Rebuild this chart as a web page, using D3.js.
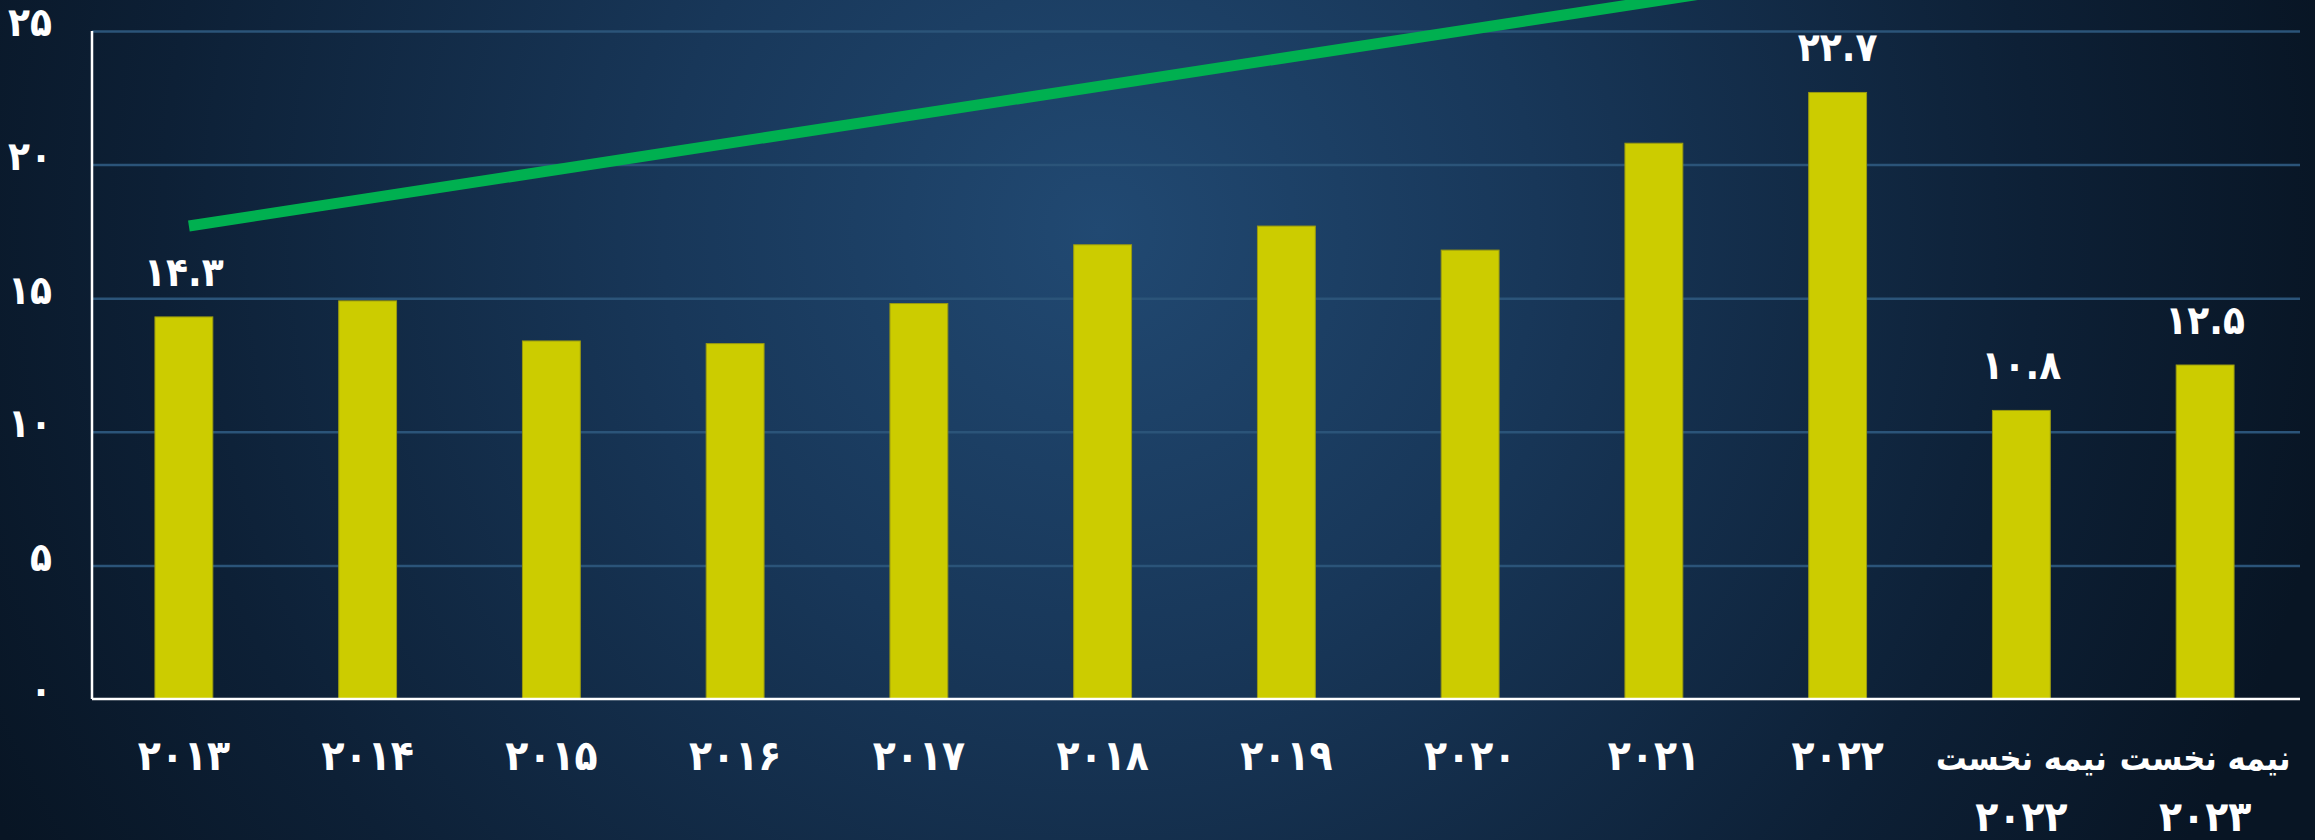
<!DOCTYPE html>
<html>
<head>
<meta charset="utf-8">
<script src="https://cdn.jsdelivr.net/npm/d3@7"></script>
<style>
    html, body { margin: 0; padding: 0; background: #0b1a2b; }
    svg { display: block; }
    text { font-family: "DejaVu Sans Condensed", "DejaVu Sans", sans-serif; font-weight: bold; fill: #ffffff; }
</style>
</head>
<body>
<svg id="main"></svg>
<script>
const width = 2315;
const height = 840;
const position = {
    left: 92,
    top: 31,
    right: 15,
    bottom: 141
};
const innerWidth = width - position.left - position.right;
const innerHeight = height - position.top - position.bottom;

// categories (x axis), values (bars), labelled bars, y ticks
const categories = ['2013', '2014', '2015', '2016', '2017', '2018', '2019', '2020', '2021', '2022', 'H1 2022', 'H1 2023'];
const categoryLabels = [
    ['۲۰۱۳'], ['۲۰۱۴'], ['۲۰۱۵'], ['۲۰۱۶'], ['۲۰۱۷'], ['۲۰۱۸'],
    ['۲۰۱۹'], ['۲۰۲۰'], ['۲۰۲۱'], ['۲۰۲۲'],
    ['نیمه نخست', '۲۰۲۲'], ['نیمه نخست', '۲۰۲۳']
];
const values = [14.3, 14.9, 13.4, 13.3, 14.8, 17.0, 17.7, 16.8, 20.8, 22.7, 10.8, 12.5];
const labelledCategories = ['2013', '2022', 'H1 2022', 'H1 2023'];
const yTicks = [0, 5, 10, 15, 20, 25];
// green trend arrow
const trendCategories = ['2013', '2022'];
const trendValues = [17.7, 27.2];

const data = categories.map((c, i) => ({ category: c, value: values[i], label: categoryLabels[i] }));

const toPersian = s => String(s).replace(/\d/g, d => '۰۱۲۳۴۵۶۷۸۹'[d]);

const svg = d3.select('#main').attr('width', width).attr('height', height);

// background
const defs = svg.append('defs');
const grad = defs
    .append('radialGradient')
    .attr('id', 'bg')
    .attr('gradientUnits', 'userSpaceOnUse')
    .attr('cx', 1100)
    .attr('cy', 230)
    .attr('r', 1250);
grad.append('stop').attr('offset', '0%').attr('stop-color', '#21497200'.slice(0, 7));
grad.append('stop').attr('offset', '35%').attr('stop-color', '#183759');
grad.append('stop').attr('offset', '75%').attr('stop-color', '#0d2036');
grad.append('stop').attr('offset', '100%').attr('stop-color', '#081524');
svg.append('rect').attr('width', width).attr('height', height).attr('fill', 'url(#bg)');

const mainGroup = svg
    .append('g')
    .attr('transform', `translate(${position.left}, ${position.top})`);

const xScale = d3
    .scaleBand()
    .domain(categories)
    .range([0, innerWidth - 3])
    .paddingInner(0.685)
    .paddingOuter(0.3425);

const yScale = d3
    .scaleLinear()
    .domain([0, 25])
    .range([innerHeight, 0]);

// gridlines
const grid = mainGroup
    .append('g')
    .call(d3.axisLeft(yScale).tickValues(yTicks).tickSize(-innerWidth).tickFormat(''));
grid.select('.domain').remove();
grid.selectAll('.tick line')
    .attr('stroke', '#2b5479')
    .attr('stroke-width', 2.5)
    .filter(d => d === 0)
    .remove();

// y axis labels
const yAxis = mainGroup
    .append('g')
    .call(d3.axisLeft(yScale).tickValues(yTicks).tickSize(0).tickPadding(40).tickFormat(d => toPersian(d)));
yAxis.select('.domain').remove();
yAxis.selectAll('text')
    .attr('font-size', 40)
    .attr('fill', '#ffffff')
    .attr('dy', '0.12em')
    .attr('font-family', '"DejaVu Sans Condensed", "DejaVu Sans", sans-serif')
    .attr('font-weight', 'bold');

// bars
mainGroup
    .selectAll('.bar')
    .data(data)
    .join('rect')
    .attr('class', 'bar')
    .attr('x', d => xScale(d.category))
    .attr('y', d => yScale(d.value))
    .attr('width', xScale.bandwidth())
    .attr('height', d => innerHeight - yScale(d.value))
    .attr('fill', '#cccc00')
    .attr('stroke', '#9a9a10')
    .attr('stroke-width', 1);

// trend line
const line = d3
    .line()
    .x(d => xScale(d.category) + xScale.bandwidth() / 2 + 5)
    .y(d => yScale(d.value));
mainGroup
    .append('path')
    .datum(trendCategories.map((c, i) => ({ category: c, value: trendValues[i] })))
    .attr('d', line)
    .attr('fill', 'none')
    .attr('stroke', '#00b050')
    .attr('stroke-width', 11);

// value labels
mainGroup
    .selectAll('.value-label')
    .data(data.filter(d => labelledCategories.includes(d.category)))
    .join('text')
    .attr('class', 'value-label')
    .attr('x', d => xScale(d.category) + xScale.bandwidth() / 2)
    .attr('y', d => yScale(d.value) - 31)
    .attr('text-anchor', 'middle')
    .attr('font-size', 40)
    .text(d => toPersian(d.value.toFixed(1)));

// x axis
const xAxis = mainGroup
    .append('g')
    .attr('transform', `translate(0, ${innerHeight})`)
    .call(d3.axisBottom(xScale).tickSize(0).tickFormat(''));
xAxis.select('.domain')
    .attr('d', `M0,0H${innerWidth}`)
    .attr('stroke', '#ffffff')
    .attr('stroke-width', 2.5);
xAxis.selectAll('.tick')
    .append('text')
    .attr('text-anchor', 'middle')
    .selectAll('tspan')
    .data(d => data.find(e => e.category === d).label)
    .join('tspan')
    .attr('x', 0)
    .attr('y', (d, i) => 71 + i * 61)
    .attr('font-size', (d, i, n) => n.length > 1 && i === 0 ? 34 : 42)
    .text(d => d);

// y axis line
mainGroup
    .append('line')
    .attr('x1', 0)
    .attr('x2', 0)
    .attr('y1', 0)
    .attr('y2', innerHeight)
    .attr('stroke', '#ffffff')
    .attr('stroke-width', 2.5);
</script>
</body>
</html>
